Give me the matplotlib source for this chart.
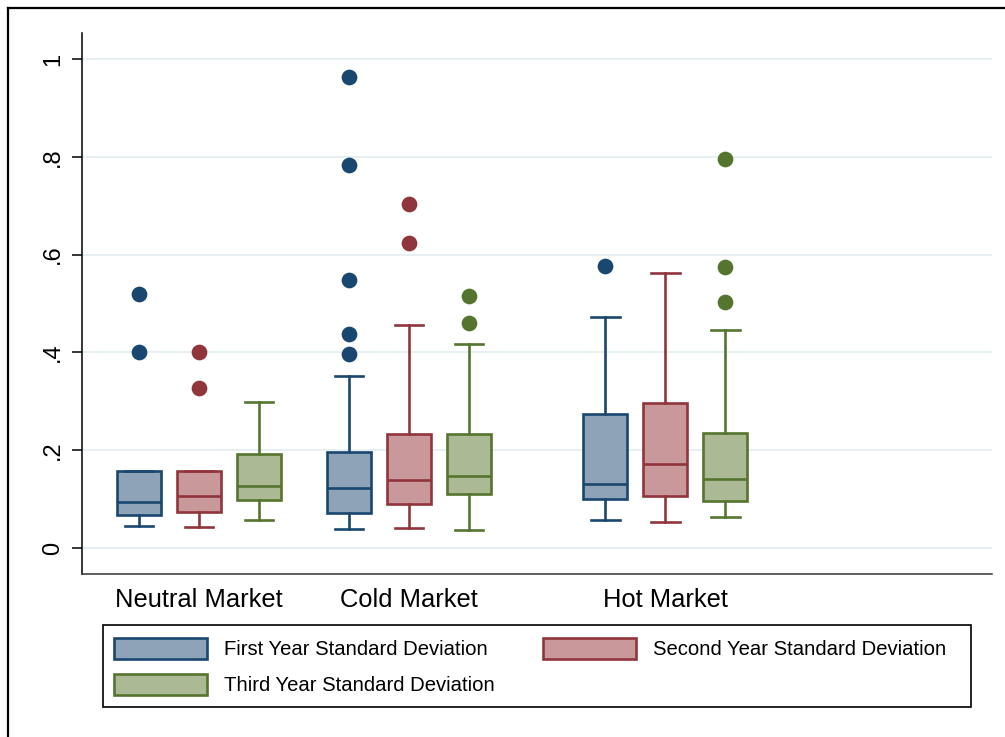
import matplotlib.pyplot as plt
from matplotlib.patches import Patch, Rectangle
from matplotlib.lines import Line2D

plt.rcParams['font.family'] = ['Liberation Sans', 'DejaVu Sans']

markets = ["Neutral Market", "Cold Market", "Hot Market"]
series = ["First Year Standard Deviation", "Second Year Standard Deviation",
          "Third Year Standard Deviation"]

# (whisker low, q1, median, q3, whisker high) for each market
first_year = [(0.044, 0.068, 0.095, 0.157, 0.157),
              (0.039, 0.072, 0.123, 0.196, 0.352),
              (0.057, 0.100, 0.131, 0.275, 0.472)]
second_year = [(0.042, 0.073, 0.106, 0.158, 0.158),
               (0.040, 0.089, 0.140, 0.233, 0.456),
               (0.053, 0.106, 0.172, 0.296, 0.562)]
third_year = [(0.057, 0.099, 0.127, 0.192, 0.299),
              (0.037, 0.111, 0.148, 0.233, 0.417),
              (0.064, 0.096, 0.141, 0.236, 0.445)]

first_year_out = [[0.401, 0.519], [0.396, 0.438, 0.548, 0.783, 0.963], [0.577]]
second_year_out = [[0.327, 0.400], [0.624, 0.703], []]
third_year_out = [[], [0.461, 0.515], [0.504, 0.575, 0.795]]

edge_colors = ["#1a476f", "#90353b", "#55752f"]
fill_colors = ["#8ea3b8", "#c9989b", "#abba94"]

group_centers = [1.95, 5.45, 9.72]
offsets = [-1, 0, 1]

fig = plt.figure(figsize=(10.05, 7.37), dpi=100)
ax = fig.add_axes([82 / 1005, 163 / 737, 910 / 1005, 541 / 737])

all_summaries = [first_year, second_year, third_year]
all_outliers = [first_year_out, second_year_out, third_year_out]

for k in range(3):
    stats = []
    for g in range(3):
        lo, q1, med, q3, hi = all_summaries[k][g]
        stats.append(dict(whislo=lo, q1=q1, med=med, q3=q3, whishi=hi,
                          fliers=all_outliers[k][g]))
    ec = edge_colors[k]
    ax.bxp(stats, positions=[c + offsets[k] for c in group_centers],
           widths=0.73, capwidths=0.48, patch_artist=True,
           boxprops=dict(facecolor=fill_colors[k], edgecolor=ec, linewidth=1.9),
           medianprops=dict(color=ec, linewidth=1.9),
           whiskerprops=dict(color=ec, linewidth=1.9),
           capprops=dict(color=ec, linewidth=1.9),
           flierprops=dict(marker='o', markerfacecolor=ec, markeredgecolor=ec,
                           markersize=10.3, linestyle='none'),
           manage_ticks=False, zorder=3)

ax.set_xlim(0, 910 / 60)
ax.set_ylim(-0.0532, 1.0532)

ax.set_yticks([0, 0.2, 0.4, 0.6, 0.8, 1])
ax.set_yticklabels(["0", ".2", ".4", ".6", ".8", "1"], rotation=90,
                   va='center', fontsize=17)
ax.yaxis.grid(True, color="#e6eff1", linewidth=1.4)
ax.set_axisbelow(True)
ax.tick_params(axis='y', length=7, width=1.1, pad=6)

ax.set_xticks(group_centers)
ax.set_xticklabels(markets, fontsize=18.4)
ax.tick_params(axis='x', length=0, pad=10)

ax.spines['top'].set_visible(False)
ax.spines['right'].set_visible(False)
ax.spines['left'].set_linewidth(1.1)
ax.spines['bottom'].set_linewidth(1.1)
ax.spines['bottom'].set_color("#333333")

# legend fills column by column, so order entries to read across rows
order = [0, 2, 1]
handles = [Patch(facecolor=fill_colors[k], edgecolor=edge_colors[k], linewidth=1.9)
           for k in order]
fig.legend(handles, [series[k] for k in order], loc='upper left', ncol=2,
           frameon=False, bbox_to_anchor=(103 / 1005, 1 - 627 / 737),
           bbox_transform=fig.transFigure, fontsize=14.6,
           handlelength=4.58, handleheight=1.18, handletextpad=0.84,
           columnspacing=2.37, labelspacing=0.74, borderpad=0.55,
           borderaxespad=0)

# legend frame and outer graph border
fig.add_artist(Rectangle((103 / 1005, 1 - 707 / 737), 868 / 1005, 82 / 737,
                         transform=fig.transFigure, fill=False,
                         edgecolor="black", linewidth=1.2))
fig.add_artist(Line2D([8 / 1005, 1], [1 - 8 / 737, 1 - 8 / 737],
                      transform=fig.transFigure, color="black", linewidth=1.6))
fig.add_artist(Line2D([8 / 1005, 8 / 1005], [0, 1 - 8 / 737],
                      transform=fig.transFigure, color="black", linewidth=1.6))

fig.savefig("out.png", dpi=100)
